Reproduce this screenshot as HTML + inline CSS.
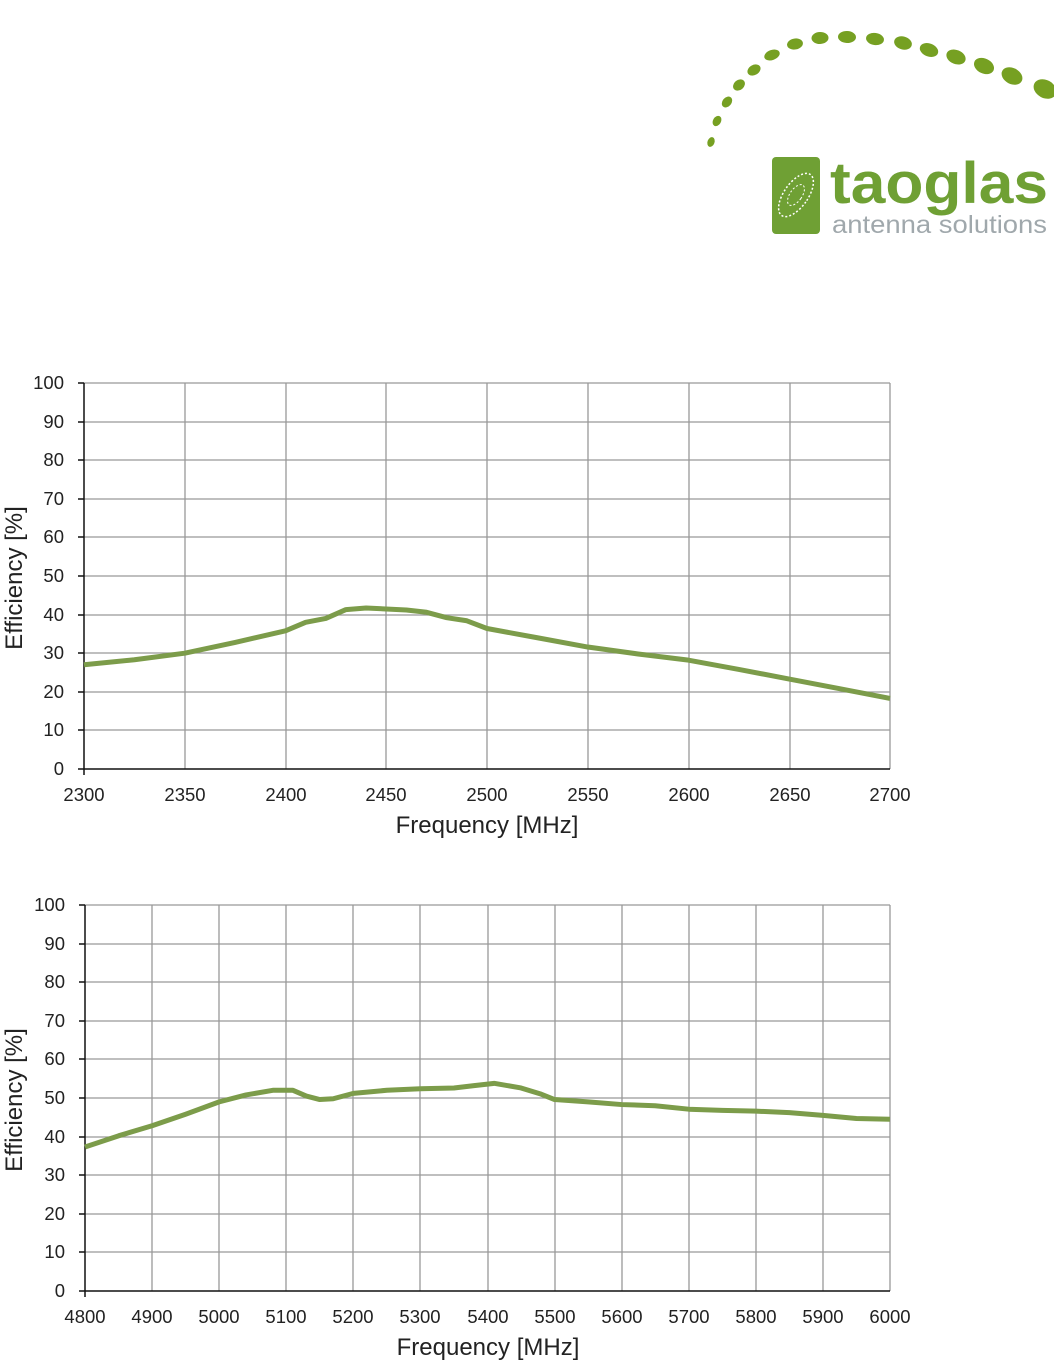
<!DOCTYPE html>
<html><head><meta charset="utf-8"><style>
html,body{margin:0;padding:0;background:#fff;}
svg{display:block;font-family:"Liberation Sans",Arial,sans-serif;}
</style></head><body>
<svg width="1054" height="1366" viewBox="0 0 1054 1366" xmlns="http://www.w3.org/2000/svg">
<g fill="#76a022">
<ellipse cx="711" cy="142" rx="3.5" ry="5" transform="rotate(20 711 142)"/>
<ellipse cx="717" cy="121" rx="4" ry="5.5" transform="rotate(30 717 121)"/>
<ellipse cx="727" cy="102" rx="4.5" ry="6" transform="rotate(40 727 102)"/>
<ellipse cx="739" cy="85" rx="5" ry="6.5" transform="rotate(50 739 85)"/>
<ellipse cx="754" cy="70" rx="5" ry="7" transform="rotate(60 754 70)"/>
<ellipse cx="772" cy="55" rx="5" ry="8" transform="rotate(70 772 55)"/>
<ellipse cx="795" cy="44" rx="5.5" ry="8" transform="rotate(80 795 44)"/>
<ellipse cx="820" cy="38" rx="6" ry="8.5" transform="rotate(88 820 38)"/>
<ellipse cx="847" cy="37" rx="6" ry="9" transform="rotate(92 847 37)"/>
<ellipse cx="875" cy="39" rx="6" ry="9" transform="rotate(98 875 39)"/>
<ellipse cx="903" cy="43" rx="6.5" ry="9" transform="rotate(105 903 43)"/>
<ellipse cx="929" cy="50" rx="6.5" ry="9.5" transform="rotate(110 929 50)"/>
<ellipse cx="956" cy="57" rx="7" ry="10" transform="rotate(112 956 57)"/>
<ellipse cx="984" cy="66" rx="7.5" ry="10.5" transform="rotate(115 984 66)"/>
<ellipse cx="1012" cy="76" rx="8" ry="11" transform="rotate(118 1012 76)"/>
<ellipse cx="1045" cy="89" rx="9" ry="12" transform="rotate(118 1045 89)"/>
</g>
<rect x="772" y="157" width="48" height="77" rx="4" fill="#6fa034"/>
<ellipse cx="796" cy="195" rx="12" ry="25" transform="rotate(35 796 195)" fill="none" stroke="#fff" stroke-width="1.5" stroke-dasharray="2 2"/>
<ellipse cx="796" cy="195" rx="6" ry="12" transform="rotate(35 796 195)" fill="none" stroke="#fff" stroke-width="1" stroke-dasharray="2 2"/>
<text x="830" y="203" font-size="58" font-weight="bold" fill="#6fa034" textLength="218" lengthAdjust="spacingAndGlyphs">taoglas</text>
<text x="832" y="233" font-size="25" fill="#a0a8ac" textLength="215" lengthAdjust="spacingAndGlyphs">antenna solutions</text>

<g stroke="#999" stroke-width="1.3">
<line x1="84" y1="383" x2="890" y2="383"/><line x1="84" y1="422" x2="890" y2="422"/><line x1="84" y1="460" x2="890" y2="460"/><line x1="84" y1="499" x2="890" y2="499"/><line x1="84" y1="537" x2="890" y2="537"/><line x1="84" y1="576" x2="890" y2="576"/><line x1="84" y1="615" x2="890" y2="615"/><line x1="84" y1="653" x2="890" y2="653"/><line x1="84" y1="692" x2="890" y2="692"/><line x1="84" y1="730" x2="890" y2="730"/>
<line x1="185" y1="383" x2="185" y2="769"/><line x1="286" y1="383" x2="286" y2="769"/><line x1="386" y1="383" x2="386" y2="769"/><line x1="487" y1="383" x2="487" y2="769"/><line x1="588" y1="383" x2="588" y2="769"/><line x1="689" y1="383" x2="689" y2="769"/><line x1="790" y1="383" x2="790" y2="769"/><line x1="890" y1="383" x2="890" y2="769"/>
</g>
<g stroke="#111" stroke-width="1.5">
<line x1="84" y1="383" x2="84" y2="775"/><line x1="78" y1="769" x2="890" y2="769"/>
<line x1="78" y1="383" x2="84" y2="383"/><line x1="78" y1="422" x2="84" y2="422"/><line x1="78" y1="460" x2="84" y2="460"/><line x1="78" y1="499" x2="84" y2="499"/><line x1="78" y1="537" x2="84" y2="537"/><line x1="78" y1="576" x2="84" y2="576"/><line x1="78" y1="615" x2="84" y2="615"/><line x1="78" y1="653" x2="84" y2="653"/><line x1="78" y1="692" x2="84" y2="692"/><line x1="78" y1="730" x2="84" y2="730"/>
</g>
<g font-size="18.5" fill="#222" text-anchor="end">
<text x="64" y="389">100</text><text x="64" y="428">90</text><text x="64" y="466">80</text><text x="64" y="505">70</text><text x="64" y="543">60</text><text x="64" y="582">50</text><text x="64" y="621">40</text><text x="64" y="659">30</text><text x="64" y="698">20</text><text x="64" y="736">10</text><text x="64" y="775">0</text>
</g>
<g font-size="18.5" fill="#222" text-anchor="middle">
<text x="84" y="801">2300</text><text x="185" y="801">2350</text><text x="286" y="801">2400</text><text x="386" y="801">2450</text><text x="487" y="801">2500</text><text x="588" y="801">2550</text><text x="689" y="801">2600</text><text x="790" y="801">2650</text><text x="890" y="801">2700</text>
</g>
<text x="487" y="833" font-size="24" fill="#222" text-anchor="middle">Frequency [MHz]</text>
<text transform="translate(22 578) rotate(-90)" font-size="24" fill="#222" text-anchor="middle">Efficiency [%]</text>
<polyline transform="translate(84 769) scale(2.015 -3.86) translate(-2300 0)" vector-effect="non-scaling-stroke" fill="none" stroke="#7c9c4a" stroke-width="5" stroke-linejoin="round"
points="2300,27 2325,28.3 2350,30 2375,32.8 2400,35.8 2410,38 2420,39 2430,41.3 2440,41.7 2460,41.2 2470,40.6 2480,39.2 2490,38.4 2500,36.4 2525,34 2550,31.6 2575,29.8 2600,28.2 2625,25.8 2650,23.3 2675,20.8 2700,18.3"/>

<g stroke="#999" stroke-width="1.3">
<line x1="85" y1="905" x2="890" y2="905"/><line x1="85" y1="944" x2="890" y2="944"/><line x1="85" y1="982" x2="890" y2="982"/><line x1="85" y1="1021" x2="890" y2="1021"/><line x1="85" y1="1059" x2="890" y2="1059"/><line x1="85" y1="1098" x2="890" y2="1098"/><line x1="85" y1="1137" x2="890" y2="1137"/><line x1="85" y1="1175" x2="890" y2="1175"/><line x1="85" y1="1214" x2="890" y2="1214"/><line x1="85" y1="1252" x2="890" y2="1252"/>
<line x1="152" y1="905" x2="152" y2="1291"/><line x1="219" y1="905" x2="219" y2="1291"/><line x1="286" y1="905" x2="286" y2="1291"/><line x1="353" y1="905" x2="353" y2="1291"/><line x1="420" y1="905" x2="420" y2="1291"/><line x1="488" y1="905" x2="488" y2="1291"/><line x1="555" y1="905" x2="555" y2="1291"/><line x1="622" y1="905" x2="622" y2="1291"/><line x1="689" y1="905" x2="689" y2="1291"/><line x1="756" y1="905" x2="756" y2="1291"/><line x1="823" y1="905" x2="823" y2="1291"/><line x1="890" y1="905" x2="890" y2="1291"/>
</g>
<g stroke="#111" stroke-width="1.5">
<line x1="85" y1="905" x2="85" y2="1297"/><line x1="79" y1="1291" x2="890" y2="1291"/>
<line x1="79" y1="905" x2="85" y2="905"/><line x1="79" y1="944" x2="85" y2="944"/><line x1="79" y1="982" x2="85" y2="982"/><line x1="79" y1="1021" x2="85" y2="1021"/><line x1="79" y1="1059" x2="85" y2="1059"/><line x1="79" y1="1098" x2="85" y2="1098"/><line x1="79" y1="1137" x2="85" y2="1137"/><line x1="79" y1="1175" x2="85" y2="1175"/><line x1="79" y1="1214" x2="85" y2="1214"/><line x1="79" y1="1252" x2="85" y2="1252"/>
</g>
<g font-size="18.5" fill="#222" text-anchor="end">
<text x="65" y="911">100</text><text x="65" y="950">90</text><text x="65" y="988">80</text><text x="65" y="1027">70</text><text x="65" y="1065">60</text><text x="65" y="1104">50</text><text x="65" y="1143">40</text><text x="65" y="1181">30</text><text x="65" y="1220">20</text><text x="65" y="1258">10</text><text x="65" y="1297">0</text>
</g>
<g font-size="18.5" fill="#222" text-anchor="middle">
<text x="85" y="1323">4800</text><text x="152" y="1323">4900</text><text x="219" y="1323">5000</text><text x="286" y="1323">5100</text><text x="353" y="1323">5200</text><text x="420" y="1323">5300</text><text x="488" y="1323">5400</text><text x="555" y="1323">5500</text><text x="622" y="1323">5600</text><text x="689" y="1323">5700</text><text x="756" y="1323">5800</text><text x="823" y="1323">5900</text><text x="890" y="1323">6000</text>
</g>
<text x="488" y="1355" font-size="24" fill="#222" text-anchor="middle">Frequency [MHz]</text>
<text transform="translate(22 1100) rotate(-90)" font-size="24" fill="#222" text-anchor="middle">Efficiency [%]</text>
<polyline transform="translate(85 1291) scale(0.6708 -3.86) translate(-4800 0)" vector-effect="non-scaling-stroke" fill="none" stroke="#7c9c4a" stroke-width="5" stroke-linejoin="round"
points="4800,37.3 4850,40.2 4900,42.8 4950,45.8 5000,49 5040,50.8 5080,52 5110,52 5130,50.5 5150,49.6 5170,49.8 5200,51.2 5250,52 5300,52.4 5350,52.6 5380,53.2 5410,53.8 5450,52.6 5480,51 5500,49.6 5550,49 5600,48.3 5650,48 5700,47.1 5750,46.8 5800,46.6 5850,46.2 5900,45.5 5950,44.7 6000,44.5"/>
</svg>
</body></html>
